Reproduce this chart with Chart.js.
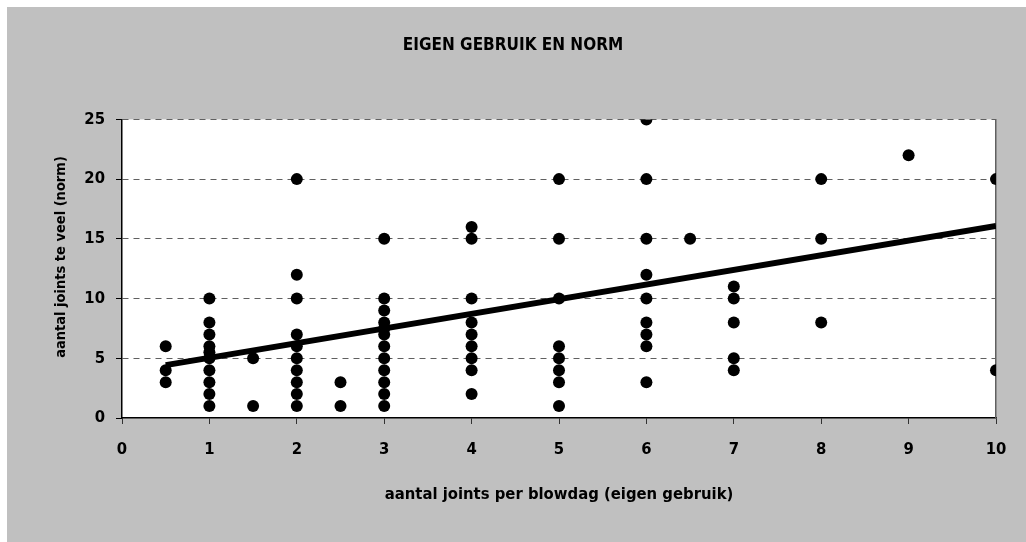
<!DOCTYPE html>
<html>
<head>
<meta charset="utf-8">
<script src="https://cdn.jsdelivr.net/npm/chart.js@4/dist/chart.umd.min.js"></script>
<style>
  html, body { margin: 0; padding: 0; background: #fff; }
  #wrap { width: 1026px; height: 542px; }
</style>
</head>
<body>
<div id="wrap"><canvas id="chart" width="1026" height="542"></canvas></div>
<script>
// joints per blowdag (own use) and the stacked norm answers for each value
const usage = [0.5, 1, 1.5, 2, 2.5, 3, 4, 5, 6, 6.5, 7, 8, 9, 10];
const norms = [
  [6, 4, 3],
  [10, 8, 7, 6, 5.5, 5, 4, 3, 2, 1],
  [5, 1],
  [20, 12, 10, 7, 6, 5, 4, 3, 2, 1],
  [3, 1],
  [15, 10, 9, 8, 7.5, 7, 6, 5, 4, 3, 2, 1],
  [16, 15, 10, 8, 7, 6, 5, 4, 2],
  [20, 15, 10, 6, 5, 4, 3, 1],
  [25, 20, 15, 12, 10, 8, 7, 6, 3],
  [15],
  [11, 10, 8, 5, 4],
  [20, 15, 8],
  [22],
  [20, 4]
];

// linear trend line
const trendX = [0.5, 10];
const trendY = [4.43, 16.08];

const xTicks = [0, 1, 2, 3, 4, 5, 6, 7, 8, 9, 10];
const yTicks = [0, 5, 10, 15, 20, 25];

const yCaption = 'aantal joints te veel (norm)';

const points = [];
usage.forEach((u, i) => {
  norms[i].forEach((n) => {
    points.push({x: u, y: n});
  });
});

const trend = trendX.map((x, i) => ({x: x, y: trendY[i]}));

const FONT = "'DejaVu Sans Condensed', 'Liberation Sans Narrow', sans-serif";

const backdrop = {
  id: 'backdrop',
  beforeDraw(chart) {
    const {ctx, chartArea} = chart;
    ctx.save();
    ctx.fillStyle = '#ffffff';
    ctx.fillRect(0, 0, chart.width, chart.height);
    ctx.fillStyle = '#c0c0c0';
    ctx.fillRect(7, 7, chart.width - 7, chart.height - 7);
    ctx.fillStyle = '#ffffff';
    ctx.fillRect(chartArea.left, chartArea.top,
      chartArea.right - chartArea.left, chartArea.bottom - chartArea.top);
    ctx.restore();
  }
};

// vertical axis caption, sits a bit above the middle of the y axis
const yAxisCaption = {
  id: 'yAxisCaption',
  afterDraw(chart) {
    const {ctx} = chart;
    ctx.save();
    ctx.translate(61, 257);
    ctx.rotate(-Math.PI / 2);
    ctx.fillStyle = '#000';
    ctx.font = 'bold 14.5px ' + FONT;
    ctx.textAlign = 'center';
    ctx.textBaseline = 'middle';
    ctx.fillText(yCaption, 0, 0);
    ctx.restore();
  }
};

new Chart(document.getElementById('chart'), {
  type: 'scatter',
  data: {
    datasets: [{
      data: points,
      backgroundColor: '#000',
      borderWidth: 0,
      pointRadius: 6,
      pointHoverRadius: 6,
      order: 2
    }, {
      type: 'line',
      data: trend,
      borderColor: '#000',
      borderWidth: 6,
      pointRadius: 0,
      fill: false,
      order: 1
    }]
  },
  options: {
    responsive: false,
    animation: false,
    events: [],
    layout: {padding: {left: 0, right: 0, top: 0, bottom: 0}},
    plugins: {
      legend: {display: false},
      tooltip: {enabled: false},
      title: {
        display: true,
        text: 'EIGEN GEBRUIK EN NORM',
        color: '#000',
        font: {family: FONT, size: 17, weight: 'bold'},
        padding: {top: 35, bottom: 64}
      }
    },
    scales: {
      x: {
        type: 'linear',
        min: 0,
        max: 10,
        afterBuildTicks: (scale) => {
          scale.ticks = xTicks.map((v) => ({value: v}));
        },
        afterFit: (scale) => {
          scale.height = 124;
        },
        ticks: {
          color: '#000',
          font: {family: FONT, size: 16.5, weight: 'bold'},
          padding: 16
        },
        grid: {
          drawOnChartArea: false,
          tickLength: 6,
          tickColor: '#333'
        },
        border: {color: '#000', width: 1.5},
        title: {
          display: true,
          text: 'aantal joints per blowdag (eigen gebruik)',
          color: '#000',
          font: {family: FONT, size: 16.5, weight: 'bold'},
          padding: {top: 0, bottom: 37}
        }
      },
      y: {
        type: 'linear',
        min: 0,
        max: 25,
        afterBuildTicks: (scale) => {
          scale.ticks = yTicks.map((v) => ({value: v}));
        },
        afterFit: (scale) => {
          scale.width = 122;
        },
        ticks: {
          color: '#000',
          font: {family: FONT, size: 16.5, weight: 'bold'},
          padding: 11
        },
        grid: {
          color: (c) => (c.index === 0 ? 'rgba(0,0,0,0)' : '#606060'),
          lineWidth: 1,
          tickLength: 6,
          tickColor: '#000'
        },
        border: {color: '#000', width: 1.5, dash: [6, 5]}
      },
      yRight: {
        type: 'linear',
        position: 'right',
        min: 0,
        max: 25,
        afterFit: (scale) => {
          scale.width = 30;
        },
        ticks: {display: false},
        grid: {display: false},
        border: {color: '#606060', width: 1.5}
      }
    }
  },
  plugins: [backdrop, yAxisCaption]
});
</script>
</body>
</html>
